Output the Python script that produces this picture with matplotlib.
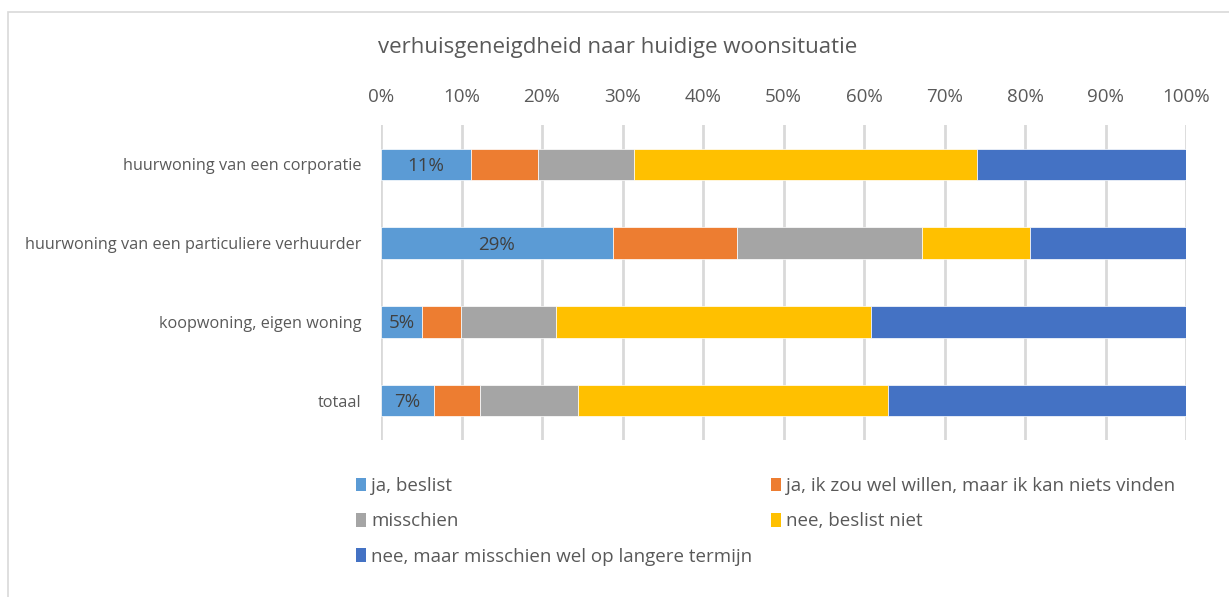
import matplotlib.pyplot as plt
from matplotlib.patches import Rectangle, Patch

plt.rcParams['font.family'] = ['Open Sans', 'DejaVu Sans']

categories = ['huurwoning van een corporatie',
              'huurwoning van een particuliere verhuurder',
              'koopwoning, eigen woning',
              'totaal']
series_names = ['ja, beslist',
                'ja, ik zou wel willen, maar ik kan niets vinden',
                'misschien',
                'nee, beslist niet',
                'nee, maar misschien wel op langere termijn']
ja_beslist = [11.2, 28.8, 5.1, 6.6]
ja_niets_vinden = [8.3, 15.4, 4.8, 5.7]
misschien = [11.9, 23.0, 11.8, 12.2]
nee_beslist_niet = [42.6, 13.4, 39.2, 38.5]
nee_langere_termijn = [26.0, 19.4, 39.1, 37.0]
colors = ['#5B9BD5', '#ED7D31', '#A5A5A5', '#FFC000', '#4472C4']

values = [ja_beslist, ja_niets_vinden, misschien, nee_beslist_niet, nee_langere_termijn]

fig = plt.figure(figsize=(12.29, 5.97), dpi=100)
ax = fig.add_axes([381 / 1229, 1 - 440 / 597, 805 / 1229, 315 / 597])

# chart border
fig.patches.append(Rectangle((8 / 1229, -0.1), 1.2, 1 - 12 / 597 + 0.1,
                             transform=fig.transFigure, fill=False,
                             edgecolor='#D9D9D9', linewidth=1.2))

ypos = list(range(len(categories)))
left = [0.0] * len(categories)
bars = []
for name, vals, c in zip(series_names, values, colors):
    b = ax.barh(ypos, vals, left=left, height=0.4, color=c, label=name,
                edgecolor='white', linewidth=0.5, zorder=3)
    bars.append(b)
    left = [l + v for l, v in zip(left, vals)]

# data labels on the first series
for rect, v in zip(bars[0], ja_beslist):
    ax.text(rect.get_x() + rect.get_width() / 2, rect.get_y() + rect.get_height() / 2 + 0.02,
            f'{round(v)}%', ha='center', va='center', fontsize=13.5, color='#404040', zorder=4)

ax.set_xlim(0, 100)
ax.set_ylim(len(categories) - 0.5, -0.5)
ax.set_xticks(range(0, 101, 10))
ax.set_xticklabels([f'{t}%' for t in range(0, 101, 10)])
ax.xaxis.tick_top()
ax.set_yticks(ypos)
ax.set_yticklabels(categories)
ax.tick_params(axis='x', length=0, pad=14, labelsize=13.5, labelcolor='#595959')
ax.tick_params(axis='y', length=0, pad=14, labelsize=11.7, labelcolor='#595959')
ax.grid(axis='x', color='#D9D9D9', linewidth=2, zorder=0)
for s in ax.spines.values():
    s.set_visible(False)

fig.text(618 / 1229, 1 - 48 / 597, 'verhuisgeneigdheid naar huidige woonsituatie',
         ha='center', va='center', fontsize=16, color='#595959')

handles = [Patch(facecolor=c) for c in colors]
order = [0, 2, 4, 1, 3]
fig.legend([handles[i] for i in order], [series_names[i] for i in order],
           ncol=2, loc='upper left', bbox_to_anchor=(343 / 1229, 1 - 464 / 597),
           frameon=False, fontsize=13.5, labelcolor='#595959',
           handlelength=0.55, handleheight=0.75, handletextpad=0.25,
           columnspacing=1.0, labelspacing=0.92, borderpad=0.2)

fig.savefig('out.png', dpi=100)
